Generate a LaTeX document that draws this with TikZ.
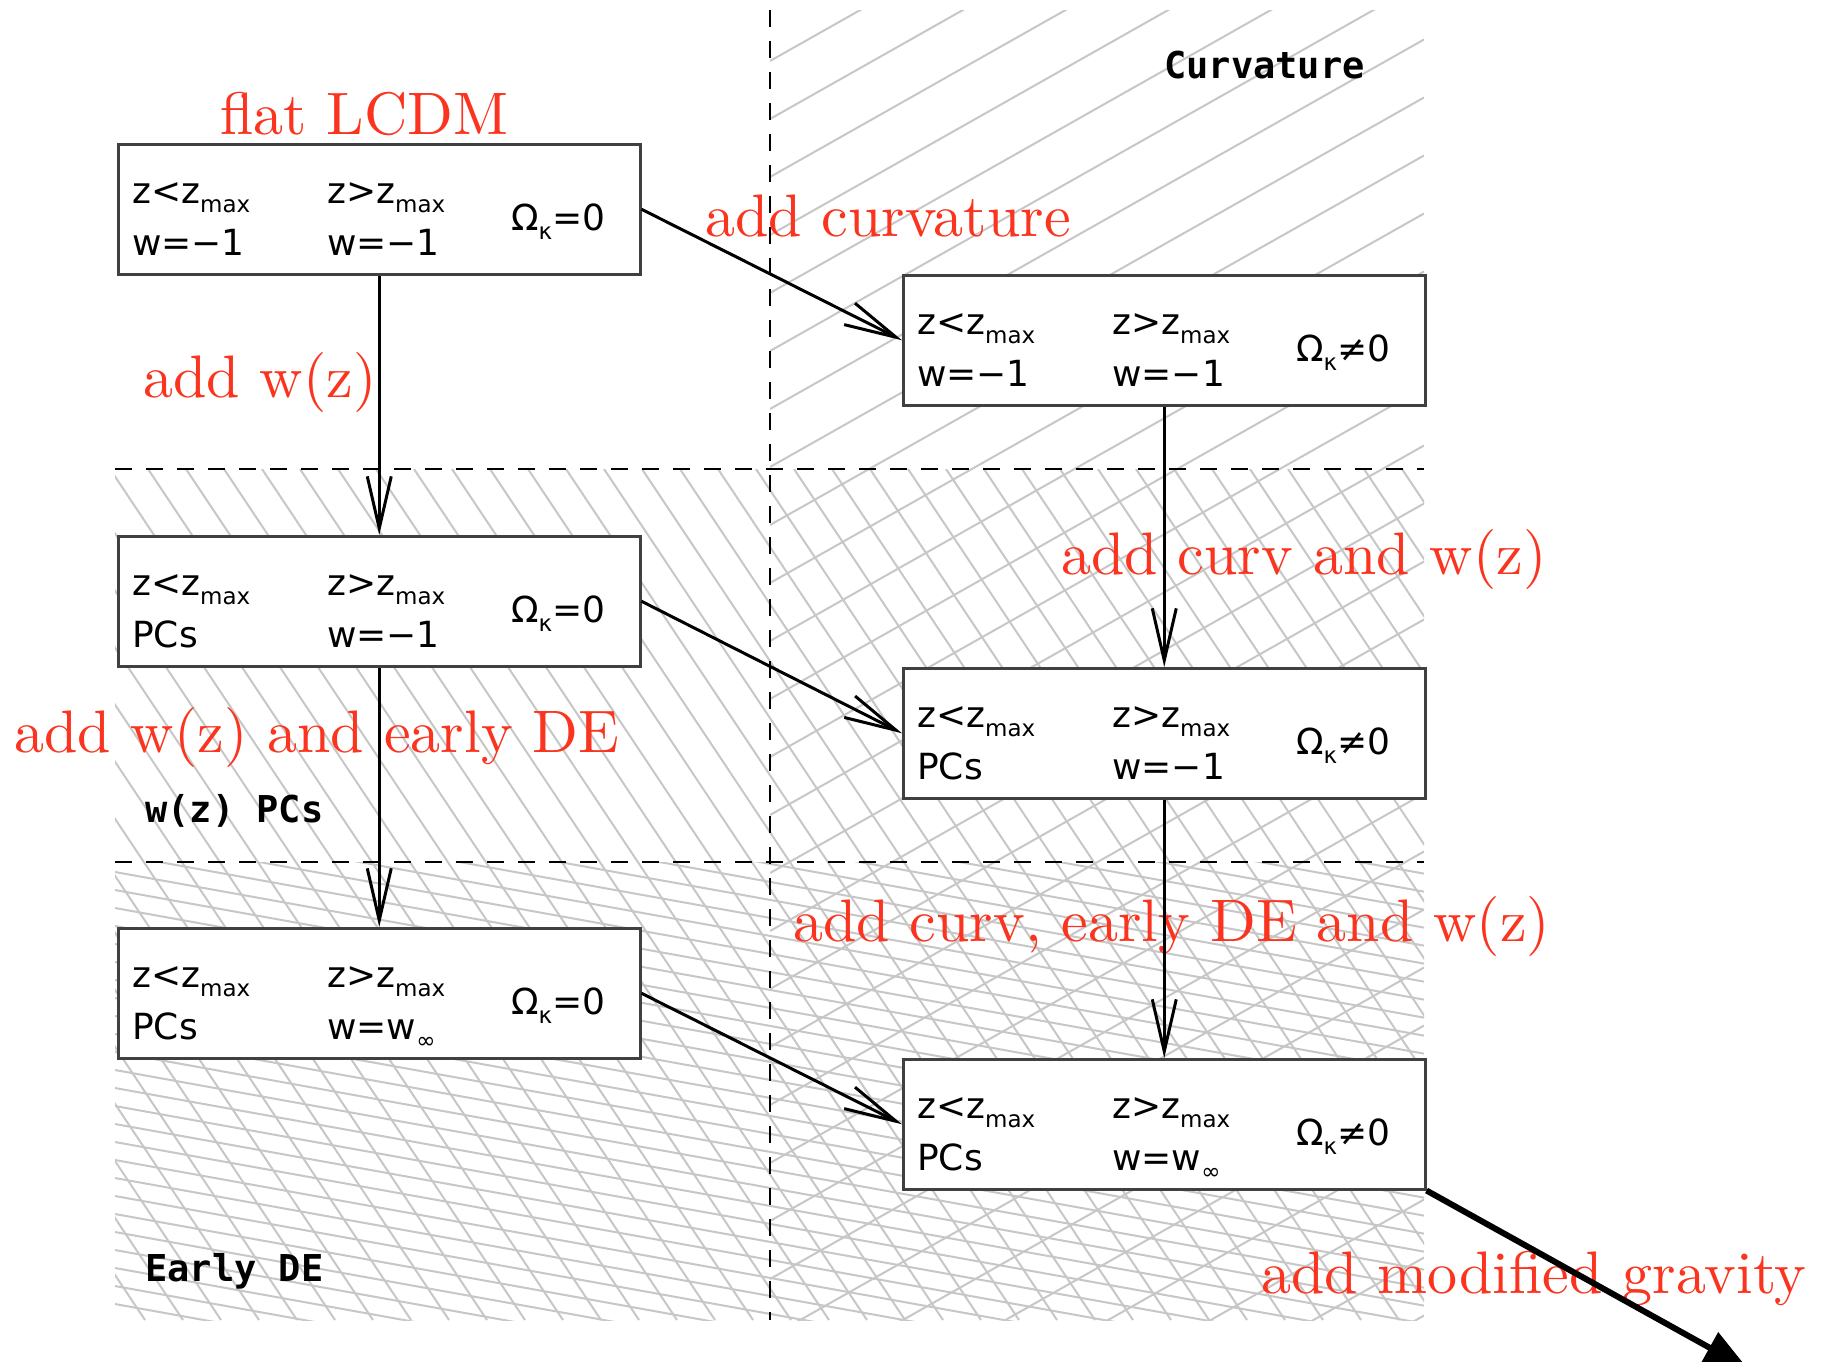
\documentclass[tikz,border=0pt]{standalone}
\usepackage{fontspec}
\usetikzlibrary{arrows.meta,calc}

\newfontfamily\boxfont{DejaVu Sans}
\newfontfamily\tagfont{DejaVu Sans Mono}
\newfontfamily\notefont{lmroman10-regular.otf}

\definecolor{notered}{RGB}{250,52,30}
\definecolor{hatchgray}{gray}{0.78}
\definecolor{framegray}{gray}{0.25}

% lowered, smaller subscript for the box entries
\newcommand\lowsub[1]{\raisebox{-9pt}{\fontsize{23}{23}\selectfont #1}}

% one model box: name, x, y (top left, px), upper-left, lower-left,
% upper-middle, lower-middle, curvature entry
\newcommand\modelbox[8]{%
  \node[modelbox] (#1) at (#2,#3) {};
  \node[boxtext] (#1-ul) at ($(#1.north west)+(15,60)$) {#4};
  \node[boxtext] (#1-ll) at ($(#1.north west)+(15,112)$) {#5};
  \node[boxtext] (#1-um) at ($(#1.north west)+(210,60)$) {#6};
  \node[boxtext] (#1-lm) at ($(#1.north west)+(210,112)$) {#7};
  \node[boxtext] (#1-om) at ($(#1.north west)+(394,87)$) {#8};
}

\tikzset{
  modelbox/.style={draw=framegray, line width=2.5pt, fill=white,
    minimum width=522pt, minimum height=130pt, inner sep=0pt, anchor=north west},
  boxtext/.style={anchor=base west, inner sep=0pt,
    font=\boxfont\fontsize{36}{40}\selectfont},
  note/.style={anchor=base west, inner sep=0pt, text=notered,
    font=\notefont\fontsize{60}{72}\selectfont},
  regiontag/.style={anchor=base west, inner sep=0pt,
    font=\tagfont\bfseries\fontsize{37}{40}\selectfont},
  hatch/.style={draw=hatchgray, line width=2pt},
  divider/.style={line width=2.5pt, dash pattern=on 17pt off 14pt},
  flowarrow/.style={line width=3pt,
    -{Straight Barb[length=52pt,width=24pt,line width=3pt]}},
  bigarrow/.style={line width=6pt, -{Triangle[length=44pt,width=34pt]}},
}

\begin{document}
\begin{tikzpicture}[x=1pt,y=-1pt]
\useasboundingbox (0,0) rectangle (1843,1361);
\fill[white] (0,0) rectangle (1843,1361);

% region corners
\coordinate (top-mid) at (770,10);
\coordinate (bot-mid) at (770,1320);
\coordinate (row1-l) at (115,469);
\coordinate (row1-r) at (1424,469);
\coordinate (row2-l) at (115,862);
\coordinate (row2-r) at (1424,862);

% curvature hatching: right column
\begin{scope}
  \clip (770,10) rectangle (1424,1320);
  \foreach \k in {0,...,30}{
    \draw[hatch] (770,{3+58*\k}) -- (1424,{3+58*\k-369.5});
  }
\end{scope}

% w(z) hatching: lower two rows
\begin{scope}
  \clip (115,469) rectangle (1424,1320);
  \foreach \k in {0,...,52}{
    \draw[hatch] ({-460+38*\k},469) -- ({-460+38*\k+567},1320);
  }
\end{scope}

% early dark energy hatching: bottom row
\begin{scope}
  \clip (115,862) rectangle (1424,1320);
  \foreach \k in {0,...,40}{
    \draw[hatch] (115,{620+18*\k}) -- (1424,{620+18*\k+235.6});
  }
\end{scope}

% dashed dividers
\draw[divider] (top-mid) -- (bot-mid);
\draw[divider] (row1-l) -- (row1-r);
\draw[divider] (row2-l) -- (row2-r);

% model boxes
\modelbox{b1}{117}{143}{z<z\lowsub{max}}{w=−1}{z>z\lowsub{max}}{w=−1}{Ω\lowsub{κ}=0}
\modelbox{b2}{902}{274}{z<z\lowsub{max}}{w=−1}{z>z\lowsub{max}}{w=−1}{Ω\lowsub{κ}≠0}
\modelbox{b3}{117}{535}{z<z\lowsub{max}}{PCs}{z>z\lowsub{max}}{w=−1}{Ω\lowsub{κ}=0}
\modelbox{b4}{902}{667}{z<z\lowsub{max}}{PCs}{z>z\lowsub{max}}{w=−1}{Ω\lowsub{κ}≠0}
\modelbox{b5}{117}{927}{z<z\lowsub{max}}{PCs}{z>z\lowsub{max}}{w=w\lowsub{∞}}{Ω\lowsub{κ}=0}
\modelbox{b6}{902}{1058}{z<z\lowsub{max}}{PCs}{z>z\lowsub{max}}{w=w\lowsub{∞}}{Ω\lowsub{κ}≠0}

% region tags
\node[regiontag] (tag-curv) at (1164,78) {Curvature};
\node[regiontag] (tag-wz) at (145,822) {w(z) PCs};
\node[regiontag] (tag-ede) at (145,1281) {Early DE};

% step annotations
\node[note] (n-flat) at (220,134) {flat LCDM};
\node[note] (n-curv) at (705,236) {add curvature};
\node[note] (n-wz) at (143,397) {add w(z)};
\node[note] (n-curvwz) at (1061,574) {add curv and w(z)};
\node[note] (n-wzede) at (14,752) {add w(z) and early DE};
\node[note] (n-all) at (793,941) {add curv, early DE and w(z)};
\node[note] (n-mg) at (1261,1293) {add modified gravity};

% transitions between models
\draw[flowarrow] (b1.south) -- (b3.north);
\draw[flowarrow] (b3.south) -- (b5.north);
\draw[flowarrow] (b2.south) -- (b4.north);
\draw[flowarrow] (b4.south) -- (b6.north);
\draw[flowarrow] (b1.east) -- (b2.west);
\draw[flowarrow] (b3.east) -- (b4.west);
\draw[flowarrow] (b5.east) -- (b6.west);
\coordinate (exit) at (1748,1369);
\draw[bigarrow] (b6.south east) -- (exit);
\end{tikzpicture}
\end{document}
